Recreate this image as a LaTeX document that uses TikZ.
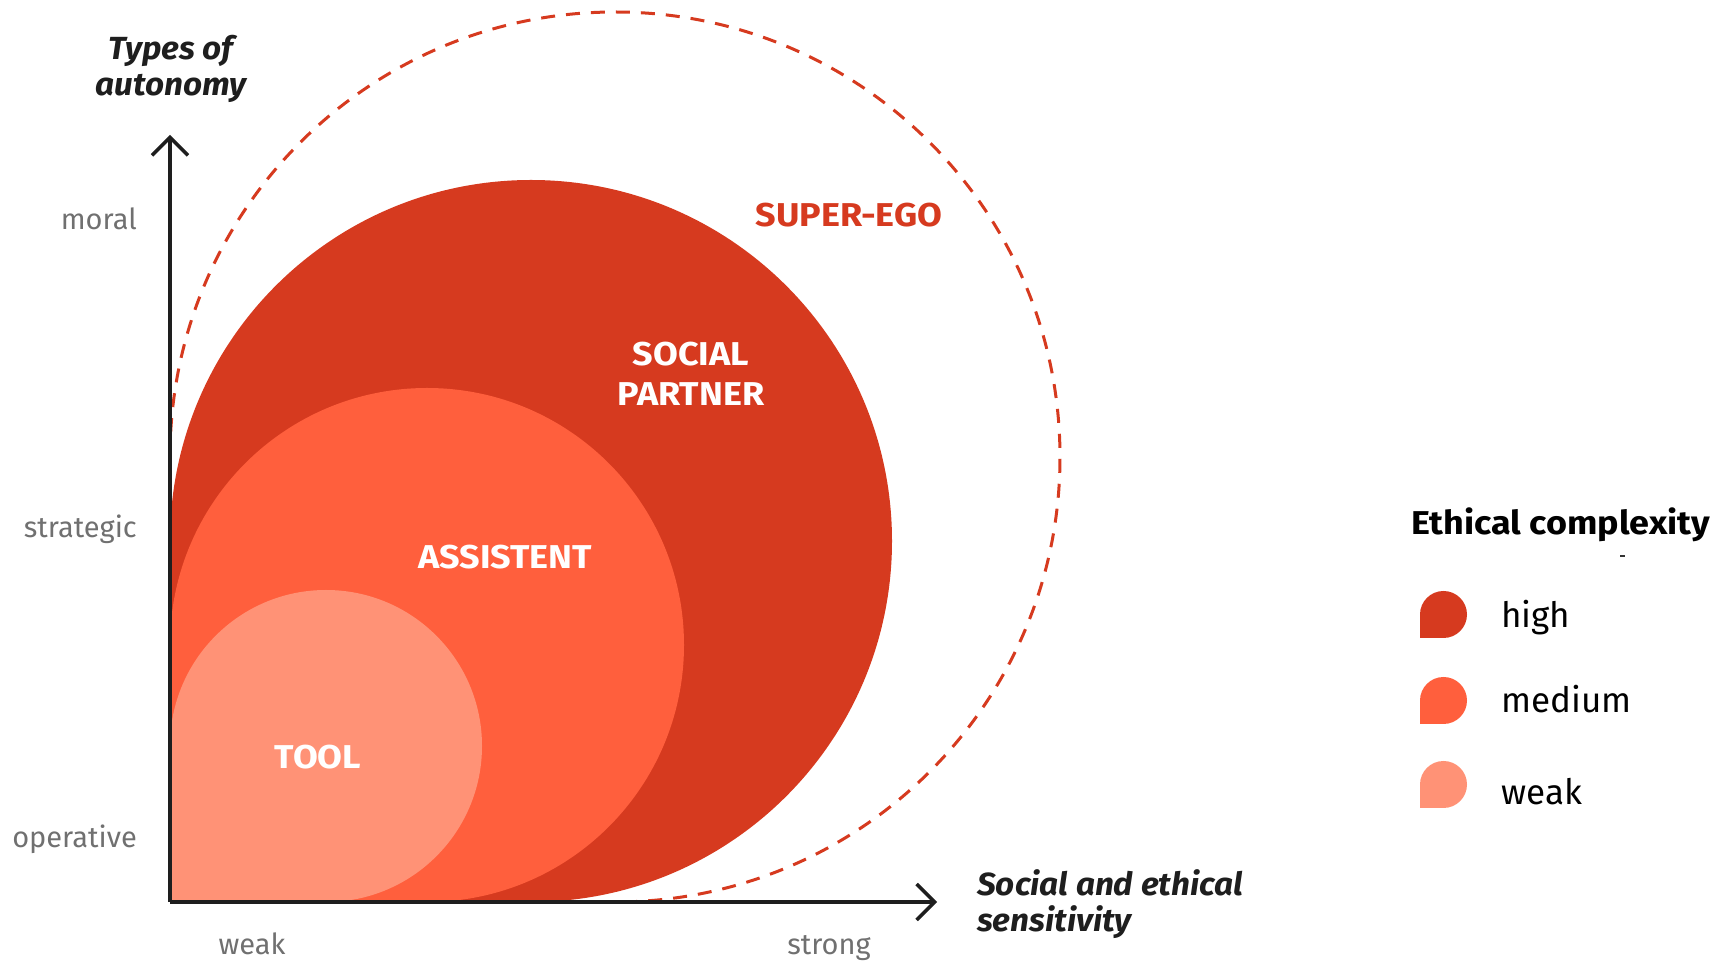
\documentclass[tikz,border=0pt]{standalone}
\usepackage{fontspec}
\setmainfont{Fira Sans}
\newfontfamily\widef{Fira Sans}[FakeStretch=1.09]
\newfontfamily\widetf{Fira Sans}[FakeStretch=1.04]
\usetikzlibrary{arrows.meta}
\definecolor{darkc}{HTML}{D63A1F}
\definecolor{medc}{HTML}{FF5F3D}
\definecolor{lightc}{HTML}{FF9276}
\definecolor{axisc}{HTML}{1E1E1E}
\definecolor{grayt}{HTML}{707070}
\newcommand\dropshape[4]{\fill[#1] ({#2-#4},#3) arc[start angle=180,end angle=-90,radius=#4] -- ({#2-#4},{#3-#4}) -- cycle;}
\begin{document}
\begin{tikzpicture}[x=1pt,y=1pt,
  axisline/.style={draw=axisc, line width=3.5pt, line cap=butt, -{Straight Barb[length=18pt,width=36pt,line width=3.5pt]}},
  ticklbl/.style={text=grayt, font=\fontsize{29}{32}\selectfont, inner sep=0pt},
  axttl/.style={text=axisc, font=\fontsize{32}{36}\widetf\bfseries\itshape, inner sep=0pt},
  inlbl/.style={text=white, font=\fontsize{33}{38}\widef\bfseries, inner sep=0pt, anchor=base},
  legttl/.style={text=black, font=\fontsize{33}{38}\widef\bfseries, inner sep=0pt, anchor=base west},
  leglbl/.style={text=black, font=\fontsize{35}{40}\selectfont, inner sep=0pt, anchor=base west},
  superdash/.style={draw=darkc, line width=3pt, dash pattern=on 14pt off 11pt}
]
\useasboundingbox (0,0) rectangle (1722,964);

% super-ego dashed circle
\draw[superdash] (170,507) arc[start angle=180,end angle=-90,radius=445];

% nested drop shapes
\dropshape{darkc}{531}{423}{361}
\dropshape{medc}{427}{319}{257}
\dropshape{lightc}{326}{218}{156}

% axes
\coordinate (O) at (170,62);
\coordinate (ytip) at (170,829);
\coordinate (xtip) at (937,62);
\draw[axisline] (O) -- (ytip);
\draw[axisline] (O) -- (xtip);

% axis titles
\node[axttl, anchor=base] (yt1) at (171,904) {Types of};
\node[axttl, anchor=base] (yt2) at (171,868) {autonomy};
\node[axttl, anchor=base west] (xt1) at (977,68) {Social and ethical};
\node[axttl, anchor=base west] (xt2) at (977,32) {sensitivity};

% tick labels
\node[ticklbl, anchor=base east] (moral) at (137,734) {moral};
\node[ticklbl, anchor=base east] (strat) at (137,426) {strategic};
\node[ticklbl, anchor=base east] (oper) at (137,116) {operative};
\node[ticklbl, anchor=base] (weakx) at (252,9) {weak};
\node[ticklbl, anchor=base] (strongx) at (829,9) {strong};

% region labels
\node[inlbl, text=darkc] (super) at (849,737) {SUPER-EGO};
\node[inlbl] (soc1) at (691,598) {SOCIAL};
\node[inlbl] (soc2) at (691,558) {PARTNER};
\node[inlbl] (assist) at (505,395) {ASSISTENT};
\node[inlbl] (tool) at (318,195) {TOOL};

% legend
\node[legttl] (legt) at (1411,429) {Ethical complexity};
\fill[black!80] (1620,407) rectangle (1625,409);
\dropshape{darkc}{1443.5}{349.5}{23.5}
\dropshape{medc}{1443.5}{263.5}{23.5}
\dropshape{lightc}{1443.5}{179.5}{23.5}
\node[leglbl] (lhigh) at (1501,336) {high};
\node[leglbl] (lmed) at (1501,251) {medium};
\node[leglbl] (lweak) at (1501,159) {weak};
\end{tikzpicture}
\end{document}
